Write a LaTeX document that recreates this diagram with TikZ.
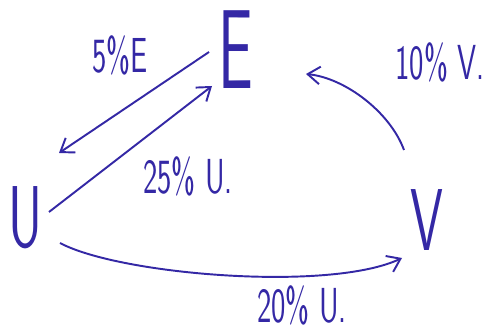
\documentclass[tikz,border=0pt]{standalone}
\usetikzlibrary{arrows.meta,calc}
\definecolor{ink}{RGB}{52,40,165}
\begin{document}
\begin{tikzpicture}[x=0.02cm,y=-0.02cm,
  letter/.style={text=ink,font=\sffamily\fontsize{64}{64}\selectfont,inner sep=0pt,xscale=0.55,transform shape},
  smallletter/.style={text=ink,font=\sffamily\fontsize{50}{50}\selectfont,inner sep=0pt,xscale=0.6,transform shape},
  lbl/.style={text=ink,font=\sffamily\fontsize{28}{28}\selectfont,inner sep=0pt,xscale=0.62,transform shape},
  arr/.style={draw=ink,line width=1.1pt,-{Straight Barb[length=7pt,width=10pt]}}]
\useasboundingbox (0,0) rectangle (497,333);
\node[letter] (E) at (236,50) {E};
\node[smallletter] (U) at (25,218) {U};
\node[smallletter] (V) at (427,220) {V};
\node[lbl] (l5) at (120,55) {5\%E};
\node[lbl] (l25) at (188,176) {25\% U.};
\node[lbl] (l10) at (440,62) {10\% V.};
\node[lbl] (l20) at (302,305) {20\% U.};
% U -> E
\draw[arr] ([shift={(24,-6)}]U.center) -- ([shift={(-24,36)}]E.center);
% E -> U
\draw[arr] ([shift={(-27,2)}]E.center) -- ([shift={(34,-65)}]U.center);
% V -> E
\draw[arr] ([shift={(-23,-70)}]V.center) .. controls (390,112) and (345,78) .. ([shift={(70,24)}]E.center);
% U -> V
\draw[arr] ([shift={(35,25)}]U.center) .. controls (120,275) and (330,292) .. ([shift={(-25,38)}]V.center);
\end{tikzpicture}
\end{document}
